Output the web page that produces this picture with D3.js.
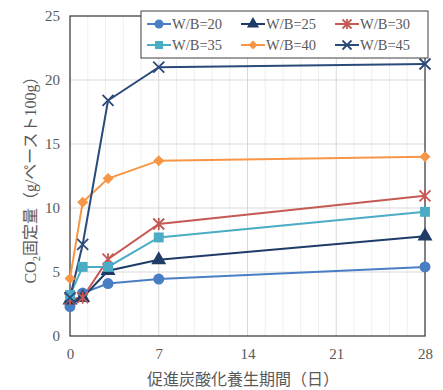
<html lang="ja">
<head>
<meta charset="utf-8">
<script src="https://d3js.org/d3.v7.min.js"></script>
<style>
  body { margin: 0; background: #fff; }
  text { font-family: "Liberation Serif", "Noto Sans CJK JP", serif; fill: #595959; }
</style>
</head>
<body>
<script>
// data
var days = [0, 1, 3, 7, 28];
var names = ["W/B=20", "W/B=25", "W/B=30", "W/B=35", "W/B=40", "W/B=45"];
var wb20 = [2.3, 3.35, 4.1, 4.45, 5.4];
var wb25 = [2.8, 3.0, 5.1, 5.95, 7.8];
var wb30 = [2.9, 3.0, 6.0, 8.75, 10.95];
var wb35 = [3.2, 5.4, 5.4, 7.7, 9.7];
var wb40 = [4.5, 10.45, 12.3, 13.7, 14.0];
var wb45 = [3.0, 7.15, 18.4, 21.0, 21.25];
var yTicks = [0, 5, 10, 15, 20, 25];
var xTicks = [0, 7, 14, 21, 28];

var series = [wb20, wb25, wb30, wb35, wb40, wb45];
var colors = ["#4a7ec4", "#1f3b68", "#c55a54", "#4bacc6", "#f79646", "#2a4a7a"];
var shapes = ["circle", "triangle", "star", "square", "diamond", "x"];

var w = 443, h = 390;
var pL = 70, pR = 425, pT = 16, pB = 336;

var svg = d3.select("body").append("svg").attr("width", w).attr("height", h);

var x = d3.scaleLinear().domain([0, 28]).range([pL, pR]);
var y = d3.scaleLinear().domain([0, 25]).range([pB, pT]);

// minor vertical grid every 1.4 days
var minor = d3.range(1, 20).map(function(i) { return i * 1.4; })
  .filter(function(d, i) { return (i + 1) % 5 != 0; });
svg.append("g").selectAll("line").data(minor).enter().append("line")
  .attr("x1", function(d) { return x(d); }).attr("x2", function(d) { return x(d); })
  .attr("y1", pT).attr("y2", pB)
  .attr("stroke", "#efefef").attr("stroke-width", 1);

// major grid
svg.append("g").selectAll("line").data([7, 14, 21]).enter().append("line")
  .attr("x1", function(d) { return x(d); }).attr("x2", function(d) { return x(d); })
  .attr("y1", pT).attr("y2", pB)
  .attr("stroke", "#d9d9d9").attr("stroke-width", 1);
svg.append("g").selectAll("line").data([5, 10, 15, 20]).enter().append("line")
  .attr("x1", pL).attr("x2", pR)
  .attr("y1", function(d) { return y(d); }).attr("y2", function(d) { return y(d); })
  .attr("stroke", "#d9d9d9").attr("stroke-width", 1);

// plot box
svg.append("rect").attr("x", pL).attr("y", pT)
  .attr("width", pR - pL).attr("height", pB - pT)
  .attr("fill", "none").attr("stroke", "#404040").attr("stroke-width", 1.3);

// axes
var yAxis = d3.axisLeft(y).tickValues(yTicks).tickSize(0).tickPadding(10);
var gy = svg.append("g").attr("transform", "translate(" + pL + ",0)").call(yAxis);
gy.select(".domain").remove();
gy.selectAll("text").attr("font-size", "15px").attr("fill", "#595959")
  .style("font-family", "Liberation Serif");

var xAxis = d3.axisBottom(x).tickValues(xTicks).tickSize(0).tickPadding(12);
var gx = svg.append("g").attr("transform", "translate(0," + pB + ")").call(xAxis);
gx.select(".domain").remove();
gx.selectAll("text").attr("font-size", "15px").attr("fill", "#595959")
  .style("font-family", "Liberation Serif");

// markers
function marker(g, shape, color, s) {
  if (shape == "circle") {
    g.append("circle").attr("r", s).attr("fill", color);
  } else if (shape == "triangle") {
    g.append("path").attr("d", d3.symbol().type(d3.symbolTriangle).size(s * s * 3.2)()).attr("fill", color);
  } else if (shape == "square") {
    g.append("rect").attr("x", -s * 0.9).attr("y", -s * 0.9).attr("width", s * 1.8).attr("height", s * 1.8).attr("fill", color);
  } else if (shape == "diamond") {
    g.append("path").attr("d", "M0," + (-s) + "L" + s + ",0L0," + s + "L" + (-s) + ",0Z").attr("fill", color);
  } else if (shape == "x") {
    g.append("path").attr("d", "M" + (-s) + "," + (-s) + "L" + s + "," + s + "M" + (-s) + "," + s + "L" + s + "," + (-s))
      .attr("stroke", color).attr("stroke-width", 1.8).attr("fill", "none");
  } else if (shape == "star") {
    g.append("path").attr("d", "M" + (-s) + "," + (-s) + "L" + s + "," + s + "M" + (-s) + "," + s + "L" + s + "," + (-s) + "M0," + (-s * 1.1) + "L0," + (s * 1.1))
      .attr("stroke", color).attr("stroke-width", 1.8).attr("fill", "none");
  }
}

var line = d3.line()
  .x(function(d, i) { return x(days[i]); })
  .y(function(d) { return y(d); });

series.forEach(function(vals, k) {
  svg.append("path").datum(vals).attr("d", line)
    .attr("fill", "none").attr("stroke", colors[k]).attr("stroke-width", 2);
});
series.forEach(function(vals, k) {
  vals.forEach(function(v, i) {
    var g = svg.append("g").attr("transform", "translate(" + x(days[i]) + "," + y(v) + ")");
    marker(g, shapes[k], colors[k], 5.5);
  });
});

// legend
var lg = svg.append("g");
lg.append("rect").attr("x", 141).attr("y", 11).attr("width", 287).attr("height", 47)
  .attr("fill", "#fff").attr("stroke", "#404040").attr("stroke-width", 1);
names.forEach(function(n, k) {
  var col = k % 3, row = Math.floor(k / 3);
  var lx = 147 + col * 94, ly = 24 + row * 21;
  lg.append("line").attr("x1", lx).attr("x2", lx + 24).attr("y1", ly).attr("y2", ly)
    .attr("stroke", colors[k]).attr("stroke-width", 2);
  marker(lg.append("g").attr("transform", "translate(" + (lx + 12) + "," + ly + ")"), shapes[k], colors[k], 4.5);
  lg.append("text").attr("x", lx + 25).attr("y", ly + 5).attr("font-size", "14.5px").text(n);
});

// axis titles
svg.append("text").attr("x", 243).attr("y", 385).attr("text-anchor", "middle")
  .attr("font-size", "16px").text("促進炭酸化養生期間（日）");

var yt = svg.append("text").attr("transform", "translate(36,176) rotate(-90)")
  .attr("text-anchor", "middle").attr("font-size", "16px");
yt.append("tspan").text("CO");
yt.append("tspan").attr("font-size", "10.5px").attr("dy", 4).text("2");
yt.append("tspan").attr("dy", -4).text("固定量（g/ペースト100g）");
</script>
</body>
</html>
